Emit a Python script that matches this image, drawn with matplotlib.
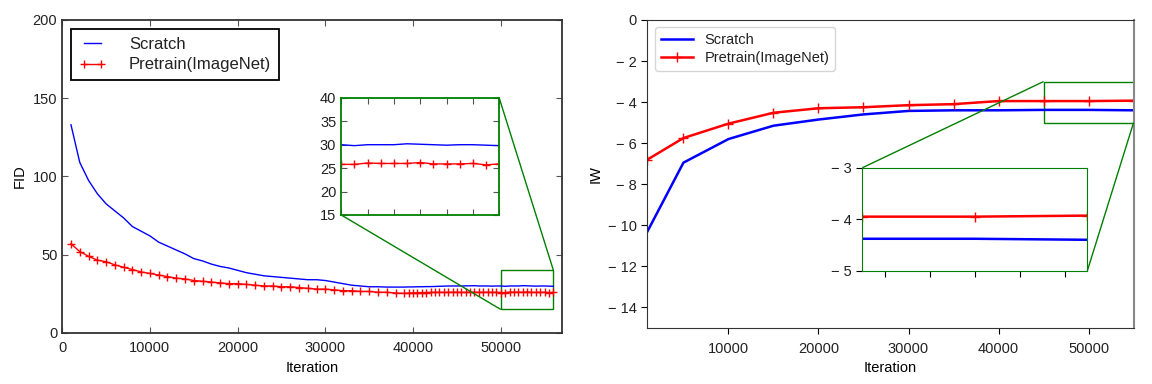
"""FID and IW curves: training from scratch vs. ImageNet pretraining"""

import matplotlib
matplotlib.use("Agg")
import matplotlib.pyplot as plt
from mpl_toolkits.axes_grid1.inset_locator import mark_inset

plt.rcParams["font.family"] = ["Liberation Sans", "DejaVu Sans"]
plt.rcParams["text.color"] = "#222222"
plt.rcParams["xtick.labelcolor"] = "#222222"
plt.rcParams["ytick.labelcolor"] = "#222222"

# ---- left panel: FID ----
fid_iters = list(range(1000, 39001, 1000)) + list(range(39500, 56001, 500))
fid_scratch = [
    133, 109, 97.5, 89, 82.5, 78, 73.5, 68, 65, 62,
    58, 55.5, 53, 50.5, 47.5, 46, 44, 42.5, 41.5, 40,
    38.5, 37.5, 36.5, 36, 35.5, 35, 34.5, 34, 34, 33.5,
    32.5, 31.5, 30.5, 30, 29.5, 29.5, 29.3, 29.3, 29.3,
    29.4, 29.4, 29.5, 29.5, 29.6, 29.6, 29.7, 29.8, 29.9, 30.0,
    30.0, 30.0, 30.0, 30.1, 30.1, 30.2, 30.0, 30.0, 30.0, 29.9,
    30.0, 30.0,
    29.8, 30.0, 30.0, 30.0, 30.2, 30.1, 30.0, 29.9, 30.0, 30.0, 29.9, 29.8,
]
fid_pretrain = [
    57, 52, 49, 46.5, 45.5, 43.5, 42, 40.5, 39, 38,
    37, 36, 35, 34.5, 33.5, 33, 32.5, 32, 31.5, 31.5,
    31, 30.5, 30, 30, 29.5, 29.5, 29, 28.5, 28, 28,
    27.5, 27, 27, 26.5, 26.5, 26, 26, 25.5, 25.3,
    25.5, 25.6, 25.7, 25.8, 25.8, 25.9, 25.9, 26.0, 25.9, 25.9,
    26.0, 26.0, 25.9, 25.9, 26.0, 26.0, 25.9, 25.9, 26.0, 25.9,
    25.9, 25.8,
    25.8, 26.1, 26.0, 26.0, 26.0, 26.2, 25.9, 25.9, 25.9, 26.0, 25.7, 25.9,
]

# ---- right panel: IW ----
iw_iters = [1000, 5000, 10000, 15000, 20000, 25000, 30000, 35000, 40000, 45000, 50000, 55000]
iw_scratch = [-10.3, -6.95, -5.8, -5.15, -4.85, -4.6, -4.43, -4.4, -4.4, -4.38, -4.38, -4.4]
iw_pretrain = [-6.8, -5.75, -5.05, -4.52, -4.3, -4.25, -4.15, -4.1, -3.95, -3.95, -3.95, -3.93]

iw_ticks = [-14, -12, -10, -8, -6, -4, -2, 0]
iw_inset_ticks = [-5, -4, -3]


def neg_label(v):
    # the reference draws a spaced minus sign: "− 2"
    return f"\u2212 {abs(v)}" if v < 0 else str(v)


fig = plt.figure(figsize=(11.52, 3.84), dpi=100)

# left: classic look, ticks inside on all sides
ax1 = fig.add_axes([0.054, 0.133, 0.434, 0.815])
ax1.plot(fid_iters, fid_scratch, color="blue", lw=1, label="Scratch")
ax1.plot(fid_iters, fid_pretrain, color="red", lw=1, marker="+", ms=6,
         mew=1, label="Pretrain(ImageNet)")
ax1.set_xlim(0, 57000)
ax1.set_ylim(0, 200)
ax1.set_xticks([0, 10000, 20000, 30000, 40000, 50000])
ax1.set_yticks([0, 50, 100, 150, 200])
ax1.tick_params(direction="in", top=True, right=True, length=4,
                labelsize=10.5, color="#555555")
ax1.tick_params(axis="x", pad=6)
for s in ax1.spines.values():
    s.set_linewidth(1.3)
    s.set_color("#333333")
ax1.set_xlabel("Iteration", fontsize=10.5)
ax1.set_ylabel("FID", fontsize=10.5)
leg1 = ax1.legend(loc="upper left", fontsize=12, fancybox=False,
                  edgecolor="black", framealpha=1, handlelength=1.6,
                  handletextpad=1.4, borderaxespad=0.55, numpoints=2,
                  borderpad=0.45, labelspacing=0.35)
leg1.get_frame().set_linewidth(1.3)

ins1 = ax1.inset_axes([0.558, 0.377, 0.316, 0.374])
ins1.plot(fid_iters, fid_scratch, color="blue", lw=1)
ins1.plot(fid_iters, fid_pretrain, color="red", lw=1, marker="+", ms=6, mew=1)
ins1.set_xlim(50000, 56000)
ins1.set_ylim(15, 40)
ins1.set_yticks([15, 20, 25, 30, 35, 40])
ins1.set_xticks([50000, 51000, 52000, 53000, 54000, 55000, 56000])
ins1.set_xticklabels([])
ins1.tick_params(direction="in", top=True, right=True, length=4,
                 labelsize=10.5, color="#555555")
for s in ins1.spines.values():
    s.set_color("green")
    s.set_linewidth(1.3)
mark_inset(ax1, ins1, loc1=1, loc2=3, fc="none", ec="green", lw=1)

# right: newer look, outward ticks, rounded legend
ax2 = fig.add_axes([0.562, 0.146, 0.422, 0.802])
ax2.plot(iw_iters, iw_scratch, color="blue", lw=1.8, label="Scratch")
ax2.plot(iw_iters, iw_pretrain, color="red", lw=1.8, marker="+", ms=7,
         mew=1, label="Pretrain(ImageNet)")
ax2.set_xlim(1000, 55000)
ax2.set_ylim(-15, 0)
ax2.set_xticks([10000, 20000, 30000, 40000, 50000])
ax2.set_yticks(iw_ticks)
ax2.set_yticklabels([neg_label(v) for v in iw_ticks])
ax2.tick_params(direction="out", length=4, labelsize=10.5)
ax2.tick_params(axis="x", pad=6)
for s in ax2.spines.values():
    s.set_color("#333333")
ax2.spines["right"].set_color("#888888")
ax2.spines["right"].set_linewidth(1.5)
ax2.set_xlabel("Iteration", fontsize=10.5)
ax2.set_ylabel("IW", fontsize=10.5)
ax2.legend(loc="upper left", fontsize=10.5, fancybox=True, edgecolor="#cccccc",
           handlelength=2.2, borderpad=0.4, labelspacing=0.3)

ins2 = ax2.inset_axes([0.442, 0.186, 0.463, 0.334])
ins2.plot(iw_iters, iw_scratch, color="blue", lw=1.8)
ins2.plot(iw_iters, iw_pretrain, color="red", lw=1.8, marker="+", ms=7, mew=1)
ins2.set_xlim(45000, 55000)
ins2.set_ylim(-5, -3)
ins2.set_yticks(iw_inset_ticks)
ins2.set_yticklabels([neg_label(v) for v in iw_inset_ticks])
ins2.set_xticks([46000, 48000, 50000, 52000, 54000])
ins2.set_xticklabels([])
ins2.tick_params(direction="out", length=4, labelsize=10.5)
for s in ins2.spines.values():
    s.set_color("green")
mark_inset(ax2, ins2, loc1=2, loc2=4, fc="none", ec="green", lw=1)

fig.savefig("out.png", dpi=100)
